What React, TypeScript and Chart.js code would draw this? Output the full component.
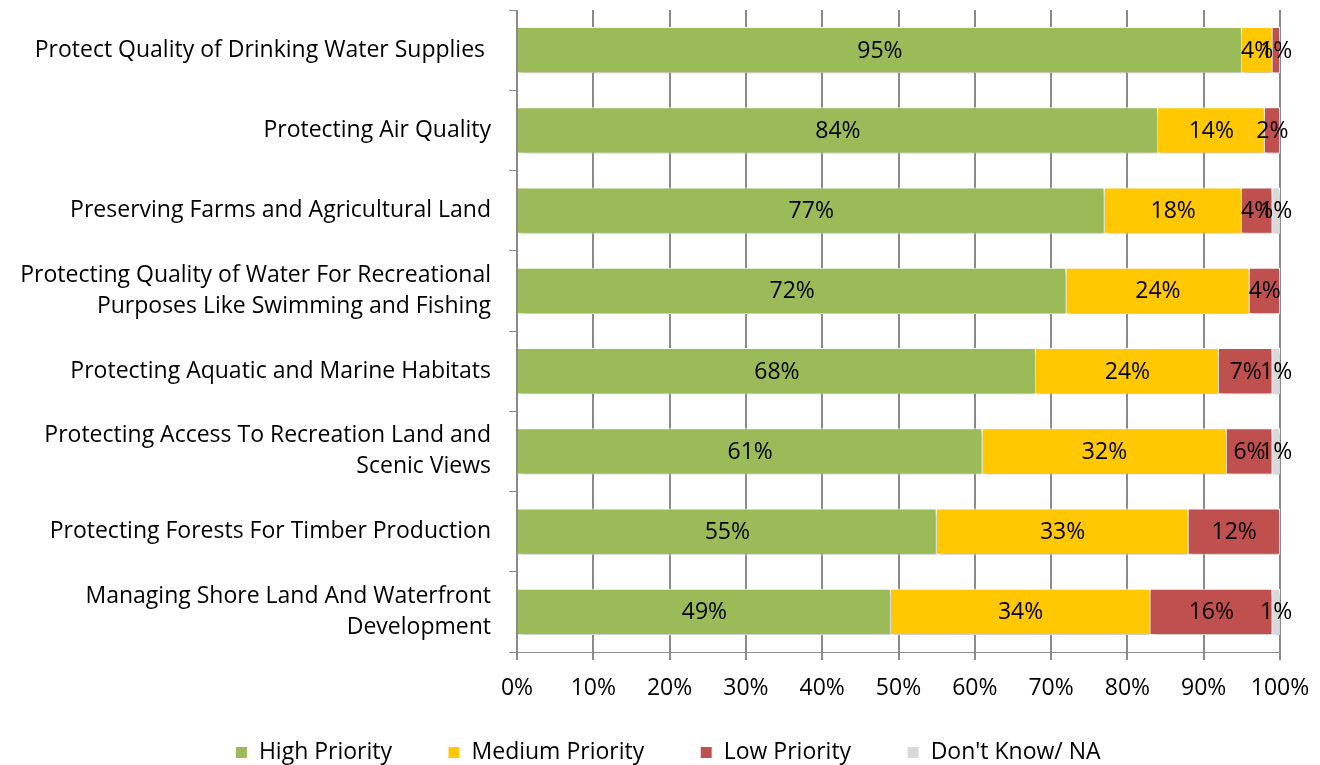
import React, { useEffect, useRef } from "react";
import { Chart, registerables } from "chart.js";

Chart.register(...registerables);

const categories: (string | string[])[] = [
  "Protect Quality of Drinking Water Supplies ",
  "Protecting Air Quality",
  "Preserving Farms and Agricultural Land",
  ["Protecting Quality of Water For Recreational", "Purposes Like Swimming and Fishing"],
  "Protecting Aquatic and Marine Habitats",
  ["Protecting Access To Recreation Land and", "Scenic Views"],
  "Protecting Forests For Timber Production",
  ["Managing Shore Land And Waterfront", "Development"],
];

const highPriority = [95, 84, 77, 72, 68, 61, 55, 49];
const mediumPriority = [4, 14, 18, 24, 24, 32, 33, 34];
const lowPriority = [1, 2, 4, 4, 7, 6, 12, 16];
const dontKnow = [0, 0, 1, 0, 1, 1, 0, 1];

const seriesNames = ["High Priority", "Medium Priority", "Low Priority", "Don't Know/ NA"];
const seriesColors = ["#9BBB59", "#FFC800", "#C0504D", "#D9D9D9"];

const FONT = "'Open Sans', sans-serif";
const FS = 23;

const shadowPlugin = {
  id: "barShadow",
  beforeDatasetsDraw(chart: any) {
    const ctx = chart.ctx;
    ctx.save();
    ctx.shadowColor = "rgba(0,0,0,0.25)";
    ctx.shadowBlur = 5;
    ctx.shadowOffsetX = 2;
    ctx.shadowOffsetY = 3;
  },
  afterDatasetsDraw(chart: any) {
    chart.ctx.restore();
  },
};

const labelPlugin = {
  id: "segLabels",
  afterDatasetsDraw(chart: any) {
    const ctx = chart.ctx;
    ctx.save();
    ctx.shadowColor = "transparent";
    ctx.font = `${FS}px ${FONT}`;
    ctx.fillStyle = "#000";
    ctx.textAlign = "center";
    ctx.textBaseline = "middle";
    chart.data.datasets.forEach((ds: any, di: number) => {
      const meta = chart.getDatasetMeta(di);
      meta.data.forEach((el: any, i: number) => {
        const v = ds.data[i];
        if (!v) return;
        const x = (el.x + el.base) / 2;
        ctx.fillText(v + "%", x, el.y + 1);
      });
    });
    ctx.restore();
  },
};

export default function App() {
  const ref = useRef<HTMLCanvasElement>(null);
  useEffect(() => {
    document.body.style.margin = "0";
    const data = [highPriority, mediumPriority, lowPriority, dontKnow];
    const chart = new Chart(ref.current!, {
      type: "bar",
      data: {
        labels: categories,
        datasets: data.map((d, i) => ({
          label: seriesNames[i],
          data: d,
          backgroundColor: seriesColors[i],
          borderColor: "#FFFFFF",
          borderWidth: 1,
          categoryPercentage: 1,
          barPercentage: 0.575,
        })),
      },
      options: {
        indexAxis: "y",
        animation: false,
        responsive: false,
        layout: { padding: { top: 10, right: 40, left: 56, bottom: 0 } },
        scales: {
          x: {
            stacked: true,
            min: 0,
            max: 100,
            ticks: {
              stepSize: 10,
              callback: (v: any) => v + "%",
              color: "#000",
              font: { family: FONT, size: FS },
              padding: 15,
            },
            grid: { color: "#8A8A8A", lineWidth: 2, tickLength: 8 },
            border: { color: "#8A8A8A", width: 1 },
            afterFit: (s: any) => {
              s.height = 33;
              s.paddingLeft = 0;
              s.paddingRight = 0;
              s._computeLabelArea = () => undefined;
            },
          },
          y: {
            stacked: true,
            ticks: {
              color: "#000",
              font: { family: FONT, size: FS, lineHeight: 1.35 },
              padding: 18,
            },
            grid: { drawOnChartArea: false, tickLength: 8, color: "#8A8A8A", offset: true },
            border: { color: "#8A8A8A", width: 1 },
            afterFit: (s: any) => {
              s.width = 461;
              s.paddingTop = 0;
              s.paddingBottom = 0;
              s._computeLabelArea = () => undefined;
            },
          },
        },
        plugins: {
          legend: {
            position: "bottom",
            maxHeight: 80,
            labels: {
              color: "#000",
              font: { family: FONT, size: FS },
              boxWidth: 12,
              boxHeight: 12,
              padding: 56,
            },
          },
          tooltip: { enabled: false },
        },
      },
      plugins: [shadowPlugin, labelPlugin],
    });
    return () => chart.destroy();
  }, []);
  return (
    <div style={{ position: "absolute", left: 0, top: 0, width: 1320, height: 765 }}>
      <canvas ref={ref} width={1320} height={765} />
    </div>
  );
}
